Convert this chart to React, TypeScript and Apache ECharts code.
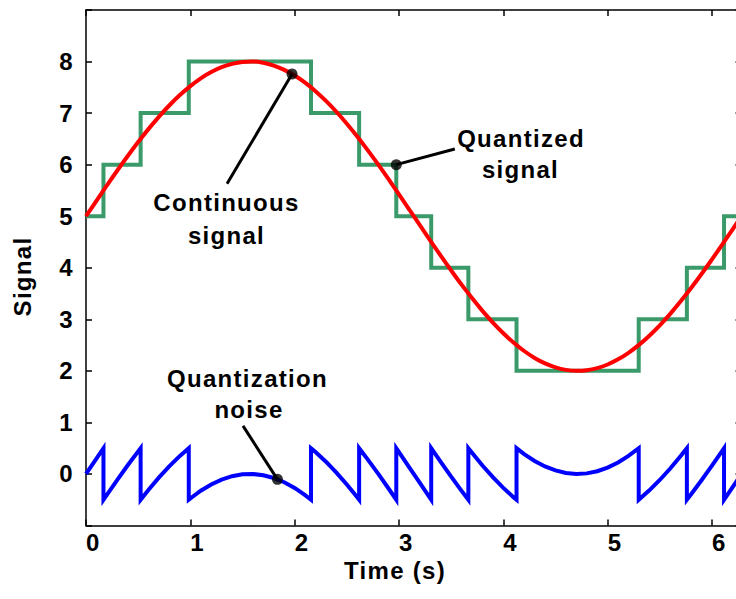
import React, { useEffect, useRef } from "react";
import * as echarts from "echarts";

// Continuous signal [time, value]
const continuousSignal: number[][] = [
  [0, 5.0], [0.1, 5.299], [0.2, 5.596], [0.3, 5.887], [0.4, 6.168], [0.5, 6.438],
  [0.6, 6.694], [0.7, 6.933], [0.8, 7.152], [0.9, 7.35], [1.0, 7.524], [1.1, 7.674],
  [1.2, 7.796], [1.3, 7.891], [1.4, 7.956], [1.5, 7.992], [1.6, 7.999], [1.7, 7.975],
  [1.8, 7.921], [1.9, 7.839], [2.0, 7.728], [2.1, 7.59], [2.2, 7.426], [2.3, 7.237],
  [2.4, 7.026], [2.5, 6.795], [2.6, 6.547], [2.7, 6.282], [2.8, 6.005], [2.9, 5.718],
  [3.0, 5.423], [3.1, 5.125], [3.2, 4.825], [3.3, 4.527], [3.4, 4.234], [3.5, 3.948],
  [3.6, 3.672], [3.7, 3.411], [3.8, 3.164], [3.9, 2.937], [4.0, 2.73], [4.1, 2.545],
  [4.2, 2.385], [4.3, 2.251], [4.4, 2.145], [4.5, 2.068], [4.6, 2.019], [4.7, 2.0],
  [4.8, 2.011], [4.9, 2.053], [5.0, 2.123], [5.1, 2.223], [5.2, 2.35], [5.3, 2.503],
  [5.4, 2.682], [5.5, 2.883], [5.6, 3.106], [5.7, 3.348], [5.8, 3.606], [5.9, 3.878],
  [6.0, 4.162], [6.1, 4.453], [6.2, 4.751], [6.2832, 5.0],
];

// Quantized signal: [time the level starts, level]
const quantizedSteps: number[][] = [
  [0, 5], [0.1674, 6], [0.5236, 7], [0.9851, 8], [2.1565, 7], [2.618, 6], [2.9742, 5],
  [3.309, 4], [3.665, 3], [4.1267, 2], [5.298, 3], [5.7596, 4], [6.1158, 5], [6.2832, 5],
];

// Quantization noise [time, value]
const quantizationNoise: number[][] = [
  [0, 0], [0.1, 0.299], [0.1674, 0.5],
  [0.1674, -0.5], [0.2, -0.404], [0.3, -0.113], [0.4, 0.168], [0.5, 0.438], [0.5236, 0.5],
  [0.5236, -0.5], [0.6, -0.306], [0.7, -0.067], [0.8, 0.152], [0.9, 0.35], [0.9851, 0.5],
  [0.9851, -0.5], [1.0, -0.476], [1.1, -0.326], [1.2, -0.204], [1.3, -0.109], [1.4, -0.044],
  [1.5, -0.008], [1.6, -0.001], [1.7, -0.025], [1.8, -0.079], [1.9, -0.161], [2.0, -0.272],
  [2.1, -0.41], [2.1565, -0.5],
  [2.1565, 0.5], [2.2, 0.426], [2.3, 0.237], [2.4, 0.026], [2.5, -0.205], [2.6, -0.453], [2.618, -0.5],
  [2.618, 0.5], [2.7, 0.282], [2.8, 0.005], [2.9, -0.282], [2.9742, -0.5],
  [2.9742, 0.5], [3.0, 0.423], [3.1, 0.125], [3.2, -0.175], [3.3, -0.473], [3.309, -0.5],
  [3.309, 0.5], [3.4, 0.234], [3.5, -0.052], [3.6, -0.328], [3.665, -0.5],
  [3.665, 0.5], [3.7, 0.411], [3.8, 0.164], [3.9, -0.063], [4.0, -0.27], [4.1, -0.455], [4.1267, -0.5],
  [4.1267, 0.5], [4.2, 0.385], [4.3, 0.251], [4.4, 0.145], [4.5, 0.068], [4.6, 0.019], [4.7, 0.0],
  [4.8, 0.011], [4.9, 0.053], [5.0, 0.123], [5.1, 0.223], [5.2, 0.35], [5.298, 0.5],
  [5.298, -0.5], [5.3, -0.497], [5.4, -0.318], [5.5, -0.117], [5.6, 0.106], [5.7, 0.348], [5.7596, 0.5],
  [5.7596, -0.5], [5.8, -0.394], [5.9, -0.122], [6.0, 0.162], [6.1, 0.453], [6.1158, 0.5],
  [6.1158, -0.5], [6.2, -0.249], [6.2832, 0],
];

// Tick labels
const xTickLabels = ["0", "1", "2", "3", "4", "5", "6"];
const yTickLabels = ["0", "1", "2", "3", "4", "5", "6", "7", "8"];

// Annotation pointers: [dot on curve, end of pointer line]
const continuousPointer: number[][] = [[1.975, 7.757], [1.352, 5.631]];
const quantizedPointer: number[][] = [[2.9742, 6], [3.535, 6.305]];
const noisePointer: number[][] = [[1.835, -0.105], [1.505, 0.932]];

const X_MIN = 0;
const X_MAX = 6.2832;
const Y_MIN = -1;
const Y_MAX = 9;

export default function App() {
  const ref = useRef<HTMLDivElement>(null);

  useEffect(() => {
    if (!ref.current) return;
    const chart = echarts.init(ref.current, null, { renderer: "svg" });
    const FONT = '"Liberation Sans", Arial, Helvetica, sans-serif';
    const labelStyle = {
      fontFamily: FONT,
      fontWeight: "bold" as const,
      fontSize: 24,
      color: "#000",
    };
    const axisLine = { show: true, onZero: false, lineStyle: { color: "#000", width: 1.5 } };
    const axisTick = { show: true, inside: true, length: 6, lineStyle: { color: "#000", width: 1.5 } };

    const txt = (text: string, x: number, y: number, rotation = 0) => ({
      type: "text",
      x,
      y,
      rotation,
      z: 100,
      style: {
        text,
        fill: "#000",
        font: `bold 24px ${FONT}`,
        lineHeight: 20,
        textAlign: "center",
        textVerticalAlign: "middle",
      },
    });

    const pointerSeries = (data: number[][]) => ({
      type: "line",
      data,
      symbol: "none",
      lineStyle: { color: "#000", width: 3 },
      z: 10,
      silent: true,
    });

    chart.setOption({
      animation: false,
      backgroundColor: "#fff",
      grid: { left: 86, top: 10, width: 655.5, height: 515.5, containLabel: false },
      xAxis: [
        {
          type: "value",
          position: "bottom",
          min: X_MIN,
          max: X_MAX,
          interval: 1,
          axisLine,
          axisTick,
          splitLine: { show: false },
          axisLabel: {
            ...labelStyle,
            lineHeight: 18,
            align: "left",
            margin: 8,
            showMaxLabel: false,
            formatter: (v: number) => (xTickLabels.includes(String(v)) ? String(v) : ""),
          },
        },
        {
          type: "value",
          position: "top",
          min: X_MIN,
          max: X_MAX,
          interval: 1,
          axisLine,
          axisTick,
          splitLine: { show: false },
          axisLabel: { show: false },
        },
      ],
      yAxis: [
        {
          type: "value",
          position: "left",
          min: Y_MIN,
          max: Y_MAX,
          interval: 1,
          axisLine,
          axisTick,
          splitLine: { show: false },
          axisLabel: {
            ...labelStyle,
            margin: 12,
            formatter: (v: number) => (yTickLabels.includes(String(v)) ? String(v) : ""),
          },
        },
        {
          type: "value",
          position: "right",
          min: Y_MIN,
          max: Y_MAX,
          interval: 1,
          axisLine,
          axisTick,
          splitLine: { show: false },
          axisLabel: { show: false },
        },
      ],
      series: [
        {
          name: "Quantized signal",
          type: "line",
          data: quantizedSteps,
          step: "end",
          symbol: "none",
          lineStyle: { color: "#3a9a6a", width: 4, join: "miter" },
          z: 2,
        },
        {
          name: "Continuous signal",
          type: "line",
          data: continuousSignal,
          smooth: 0.4,
          symbol: "none",
          lineStyle: { color: "#ff0000", width: 4 },
          z: 3,
        },
        {
          name: "Quantization noise",
          type: "line",
          data: quantizationNoise,
          symbol: "none",
          lineStyle: { color: "#0000ff", width: 4, join: "miter" },
          z: 3,
        },
        pointerSeries(continuousPointer),
        pointerSeries(quantizedPointer),
        pointerSeries(noisePointer),
        {
          type: "scatter",
          data: [continuousPointer[0], quantizedPointer[0], noisePointer[0]],
          symbol: "circle",
          symbolSize: 11,
          itemStyle: { color: "#000" },
          z: 11,
          silent: true,
        },
      ],
      graphic: [
        txt("Continuous", 226.5, 202),
        txt("signal", 226.5, 235),
        txt("Quantized", 521, 138.5),
        txt("signal", 520.5, 169),
        txt("Quantization", 247.5, 378.5),
        txt("noise", 249, 409),
        txt("Time (s)", 395, 570.5),
        txt("Signal", 22, 276.5, Math.PI / 2),
      ],
    });
    return () => chart.dispose();
  }, []);

  return (
    <>
      <style>{`#root svg text { letter-spacing: 1.3px; }`}</style>
      <div
        ref={ref}
        style={{ position: "fixed", left: 0, top: 0, width: 760, height: 599 }}
      />
    </>
  );
}
